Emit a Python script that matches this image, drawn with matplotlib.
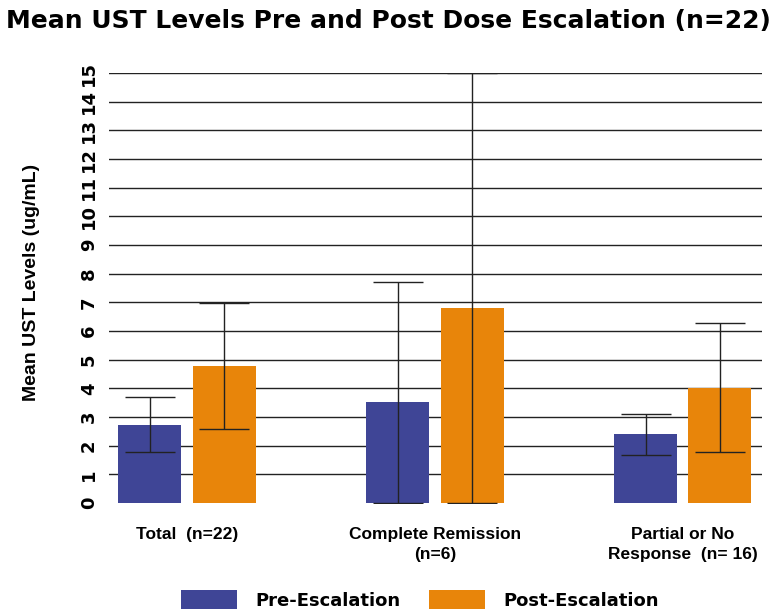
import numpy as np
import matplotlib
matplotlib.use("Agg")
import matplotlib.pyplot as plt
from matplotlib.patches import Patch

# =============================================================================
# Data

groups = ["Total  (n=22)", "Complete Remission\n(n=6)", "Partial or No\nResponse  (n= 16)"]
series = ["Pre-Escalation", "Post-Escalation"]
pre_mean = [2.72, 3.51, 2.40]
pre_low = [1.79, 0.0, 1.66]
pre_high = [3.69, 7.72, 3.11]
post_mean = [4.79, 6.81, 4.01]
post_low = [2.59, 0.0, 1.77]
post_high = [6.99, 15.0, 6.27]
yticks = list(range(0, 16))

col_pre = "#3F4596"
col_post = "#E8850A"

# =============================================================================
# Plot

fig = plt.figure(figsize=(7.75, 6.13), dpi=100)
ax = fig.add_axes([109/775, 1-503/613, (762-109)/775, (503-73)/613])

x = np.arange(len(groups))
off = 0.15
w = 0.254

for xs, m, lo, hi, c in [(x - off, pre_mean, pre_low, pre_high, col_pre),
                         (x + off, post_mean, post_low, post_high, col_post)]:
    m = np.array(m)
    err = np.vstack([m - np.array(lo), np.array(hi) - m])
    ax.bar(xs, m, width=w, color=c, zorder=2)
    ax.errorbar(xs, m, yerr=err, fmt="none", ecolor="#222222", elinewidth=1.0,
                capsize=18, capthick=1.0, zorder=3)

ax.set_xlim(-0.315, 2.32)
ax.set_ylim(0, 15)
ax.set_yticks(yticks)
for yv in yticks[1:]:
    ax.axhline(yv, color="#222222", lw=1.0, zorder=1)
for s in ax.spines.values():
    s.set_visible(False)
ax.tick_params(axis="y", length=0, pad=8)
ax.tick_params(axis="x", length=0, pad=17)
ax.set_yticklabels([str(v) for v in yticks], rotation=90, va="center",
                   fontsize=13, fontweight="bold")
ax.set_xticks(x)
ax.set_xticklabels(groups, fontsize=12.5, fontweight="bold", family="Liberation Sans",
                   linespacing=1.45)

fig.text(32/775, 1-282/613, "Mean UST Levels (ug/mL)", rotation=90, ha="center",
         va="center", fontsize=14, fontweight="bold", family="Liberation Sans")

fig.text(388/775, 1-21/613, "Mean UST Levels Pre and Post Dose Escalation (n=22)",
         ha="center", va="center", fontsize=18, fontweight="bold")

handles = [Patch(facecolor=col_pre), Patch(facecolor=col_post)]
fig.legend(handles, series, loc="center", bbox_to_anchor=(420/775, 1-600/613),
           ncol=2, frameon=False, handlelength=3.1, handleheight=1.2,
           columnspacing=1.6, handletextpad=1.0, prop={"weight": "bold", "size": 13})

fig.savefig("out.png", dpi=100)
